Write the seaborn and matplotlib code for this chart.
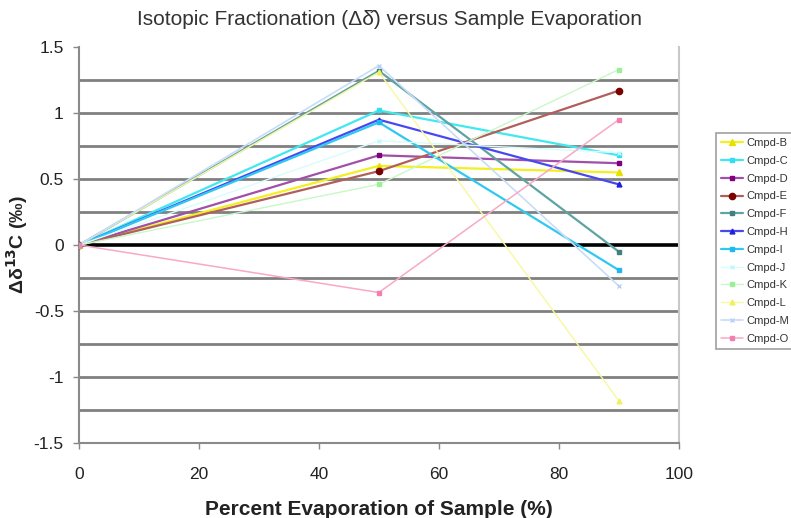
import matplotlib
matplotlib.use("Agg")
import matplotlib.pyplot as plt
import seaborn as sns
import pandas as pd

x_vals = [0, 50, 90]
names = ["Cmpd-B", "Cmpd-C", "Cmpd-D", "Cmpd-E", "Cmpd-F", "Cmpd-H",
         "Cmpd-I", "Cmpd-J", "Cmpd-K", "Cmpd-L", "Cmpd-M", "Cmpd-O"]
cmpd_b = [0, 0.60, 0.55]
cmpd_c = [0, 1.02, 0.68]
cmpd_d = [0, 0.68, 0.62]
cmpd_e = [0, 0.56, 1.17]
cmpd_f = [0, 1.32, -0.05]
cmpd_h = [0, 0.95, 0.46]
cmpd_i = [0, 0.93, -0.19]
cmpd_j = [0, 0.79, 0.70]
cmpd_k = [0, 0.46, 1.33]
cmpd_l = [0, 1.31, -1.18]
cmpd_m = [0, 1.36, -0.31]
cmpd_o = [0, -0.36, 0.95]
series = [cmpd_b, cmpd_c, cmpd_d, cmpd_e, cmpd_f, cmpd_h,
          cmpd_i, cmpd_j, cmpd_k, cmpd_l, cmpd_m, cmpd_o]

line_colors = ["#F2F020", "#40E8F0", "#A050A8", "#B0605C", "#5FA3A3", "#4848F0",
               "#30C8F0", "#D8FCFC", "#C8F8C8", "#F8F8A0", "#C8DCF8", "#F8A8C8"]
marker_colors = ["#E8E000", "#30E0F0", "#800080", "#7A0000", "#3F8080", "#2020E0",
                 "#20B8F0", "#C0F8F8", "#99F099", "#F0F060", "#B8D0F8", "#F080B0"]
markers = ["^", "s", "s", "o", "s", "^", "s", "x", "s", "^", "x", "s"]
msizes = [4, 2.5, 3, 4.5, 2.5, 3.5, 2.5, 3, 3, 3.5, 3, 2.5]
lwidths = [1.6, 1.6, 1.6, 1.6, 1.6, 1.6, 1.6, 1.0, 1.0, 1.0, 1.2, 1.1]

sns.set_style("white")
plt.rcParams["font.family"] = ["Liberation Sans", "DejaVu Sans"]

fig = plt.figure(figsize=(7.91, 5.18), dpi=100)
ax = fig.add_axes([0.100, 0.145, 0.758, 0.764])

# gridlines
for g in [1.25, 1.0, 0.75, 0.5, 0.25, -0.25, -0.5, -0.75, -1.0, -1.25]:
    ax.axhline(g, color="#808080", lw=2.0, zorder=0)
ax.axhline(0, color="black", lw=2.6, zorder=1)

for name, vals, lc, mc, mk, ms, lw in zip(names, series, line_colors, marker_colors,
                                          markers, msizes, lwidths):
    d = pd.DataFrame({"x": x_vals, "y": vals})
    sns.lineplot(data=d, x="x", y="y", ax=ax, color=lc, lw=lw, marker=mk,
                 markersize=ms, markerfacecolor=mc, markeredgecolor=mc,
                 markeredgewidth=1, label=name, zorder=3)

ax.set_xlim(0, 100)
ax.set_ylim(-1.5, 1.5)
ax.set_xticks([0, 20, 40, 60, 80, 100])
ax.set_yticks([-1.5, -1, -0.5, 0, 0.5, 1, 1.5])
ax.set_yticklabels(["-1.5", "-1", "-0.5", "0", "0.5", "1", "1.5"])
ax.tick_params(axis="both", labelsize=12.5, labelcolor="#222222", length=4, width=1,
               direction="out", left=True, bottom=True, pad=7, color="#888888")
ax.tick_params(axis="x", pad=13)
for s in ["left", "bottom"]:
    ax.spines[s].set_color("#8a8a8a")
    ax.spines[s].set_linewidth(1.5)
ax.spines["right"].set_color("#c8c8c8")
ax.spines["right"].set_linewidth(1.5)
ax.spines["top"].set_visible(False)

ax.set_xlabel("Percent Evaporation of Sample (%)", fontsize=15, fontweight="bold",
              color="#222222", labelpad=13)
ax.set_ylabel("Δδ$^{\\mathbf{13}}$C (‰)", fontsize=14, fontweight="bold",
              color="#222222", labelpad=3)
fig.text(0.493, 0.962, "Isotopic Fractionation (Δδ̂) versus Sample Evaporation",
         ha="center", va="center", fontsize=15, color="#333333")

leg = ax.legend(loc="upper left", bbox_to_anchor=(0.905, 0.743),
                bbox_transform=fig.transFigure, fontsize=8, frameon=True,
                fancybox=False, edgecolor="#888888", borderaxespad=0,
                handlelength=2.0, handletextpad=0.3, labelspacing=0.70,
                borderpad=0.45, labelcolor="#333333")
leg.get_frame().set_linewidth(1.2)

fig.savefig("out.png", dpi=100)
